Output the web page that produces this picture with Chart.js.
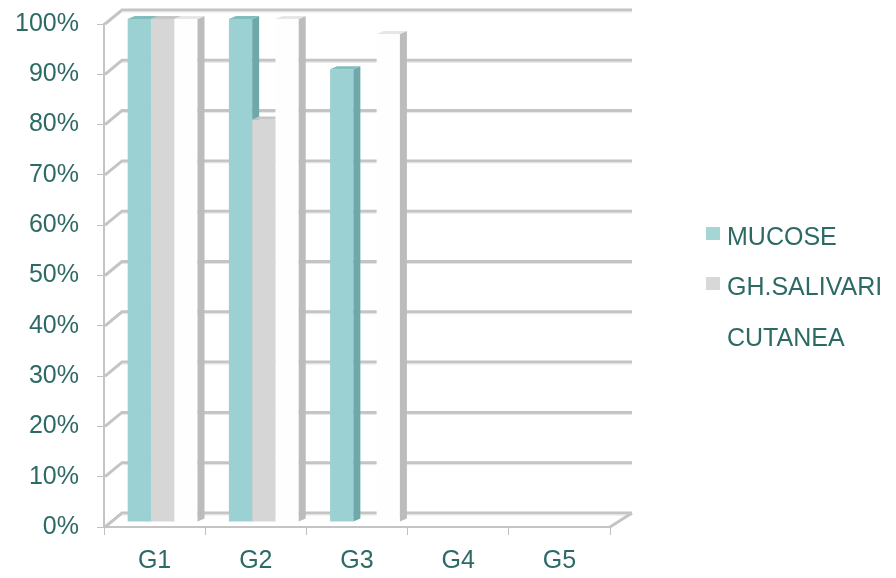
<!DOCTYPE html>
<html>
<head>
<meta charset="utf-8">
<script src="https://cdn.jsdelivr.net/npm/chart.js@4/dist/chart.umd.min.js"></script>
<style>
  html, body { margin: 0; padding: 0; background: #fff; }
  #wrap { position: relative; width: 896px; height: 578px; }
  #legend { position: absolute; left: 0; top: 0; font-family: "Liberation Sans", Arial, sans-serif; font-size: 25px; color: #2d6a66; }
  .item { position: absolute; left: 706px; white-space: nowrap; }
  .item .box { position: absolute; left: 0; width: 14px; height: 13px; }
  .item .txt { position: absolute; left: 21px; line-height: 30px; }
</style>
</head>
<body>
<div id="wrap">
  <canvas id="chart" width="896" height="578"></canvas>
  <div id="legend"></div>
</div>
<script>
// Chart data
const categories = ["G1", "G2", "G3", "G4", "G5"]
const seriesNames = ["MUCOSE", "GH.SALIVARI", "CUTANEA"]
const mucose = [100, 100, 90, 0, 0]
const salivari = [100, 80, 0, 0, 0]
const cutanea = [100, 100, 97, 0, 0]
const yTicks = [0, 10, 20, 30, 40, 50, 60, 70, 80, 90, 100]

const textColor = "#2d6a66"
const fronts = ["#9bd1d2", "#d6d6d6", "#fefefe"]
const sides = ["#6ea8a8", "#b9b9b9", "#bcbcbc"]
const tops = ["#82bdbd", "#c6c6c6", "#e6e6e6"]
const legendBoxes = ["#a6d5d6", "#d8d8d8", "#ffffff"]

// 3D look: bars sit a bit inside the box, back wall is offset up/right
const barShift = { x: 8, y: -5 }
const depth = { x: 7, y: -3 }
const wall = { x: 18, y: -14 }

const frame3d = {
  id: "frame3d",
  beforeDatasetsDraw(chart) {
    const { ctx, chartArea, scales } = chart
    const L = chartArea.left, R = chartArea.right, B = chartArea.bottom
    ctx.save()
    yTicks.forEach((v) => {
      const y = scales.y.getPixelForValue(v)
      ctx.beginPath()
      ctx.moveTo(L + 1, y)
      ctx.lineTo(L + wall.x, y + wall.y)
      ctx.lineTo(R + wall.x + 4, y + wall.y)
      ctx.strokeStyle = "#c4c4c4"
      ctx.lineWidth = 3
      ctx.stroke()
      ctx.beginPath()
      ctx.moveTo(L + wall.x, y + wall.y + 2)
      ctx.lineTo(R + wall.x + 4, y + wall.y + 2)
      ctx.strokeStyle = "#e6e6e6"
      ctx.lineWidth = 1
      ctx.stroke()
    })
    // floor right edge
    ctx.beginPath()
    ctx.moveTo(R, B)
    ctx.lineTo(R + wall.x + 4, B + wall.y)
    ctx.strokeStyle = "#c4c4c4"
    ctx.lineWidth = 3
    ctx.stroke()
    ctx.restore()
  },
  // skip the default drawing, bars are drawn below from left to right
  beforeDatasetDraw() {
    return false
  },
  afterDatasetsDraw(chart) {
    const { ctx } = chart
    ctx.save()
    ctx.translate(barShift.x, barShift.y)
    chart.data.datasets.forEach((ds, i) => {
      const meta = chart.getDatasetMeta(i)
      meta.data.forEach((bar) => {
        const p = bar.getProps(["x", "y", "base", "width"], true)
        if (Math.abs(p.base - p.y) < 1) return
        bar.draw(ctx)
        const l = p.x - p.width / 2, r = p.x + p.width / 2
        // side face
        ctx.beginPath()
        ctx.moveTo(r, p.y)
        ctx.lineTo(r + depth.x, p.y + depth.y)
        ctx.lineTo(r + depth.x, p.base + depth.y)
        ctx.lineTo(r, p.base)
        ctx.closePath()
        ctx.fillStyle = sides[i]
        ctx.fill()
        // top face
        ctx.beginPath()
        ctx.moveTo(l, p.y)
        ctx.lineTo(l + depth.x, p.y + depth.y)
        ctx.lineTo(r + depth.x, p.y + depth.y)
        ctx.lineTo(r, p.y)
        ctx.closePath()
        ctx.fillStyle = tops[i]
        ctx.fill()
      })
    })
    ctx.restore()
  }
}

const seriesValues = [mucose, salivari, cutanea]
const datasets = seriesNames.map((name, i) => ({
  label: name,
  data: seriesValues[i],
  backgroundColor: fronts[i],
  borderWidth: 0,
  categoryPercentage: 0.69,
  barPercentage: 1
}))

new Chart(document.getElementById("chart"), {
  type: "bar",
  data: { labels: categories, datasets: datasets },
  options: {
    responsive: false,
    animation: false,
    layout: { padding: { left: 0, right: 286, top: 24, bottom: 0 } },
    plugins: { legend: { display: false }, tooltip: { enabled: false } },
    scales: {
      x: {
        afterFit: (scale) => {
          scale.height = 51
          scale.paddingLeft = 0
          scale.paddingRight = 0
        },
        grid: { drawOnChartArea: false, drawTicks: true, tickLength: 8, color: "#c0c0c0", offset: true },
        border: { color: "#c4c4c4", width: 2 },
        ticks: { color: textColor, font: { family: "Liberation Sans", size: 25 }, padding: 11 }
      },
      y: {
        min: 0,
        max: 100,
        afterFit: (scale) => {
          scale.width = 104
          scale.paddingTop = 0
          scale.paddingBottom = 0
        },
        afterBuildTicks: (scale) => { scale.ticks = yTicks.map((v) => ({ value: v })) },
        grid: { drawOnChartArea: false, drawTicks: true, tickLength: 7, color: "#c0c0c0" },
        border: { color: "#c4c4c4", width: 2 },
        ticks: {
          color: textColor,
          font: { family: "Liberation Sans", size: 25 },
          padding: 18,
          callback: (v) => v + "%"
        }
      }
    }
  },
  plugins: [frame3d]
})

// Legend
const legendTops = [221, 271, 322]
const legend = document.getElementById("legend")
seriesNames.forEach((name, i) => {
  const item = document.createElement("div")
  item.className = "item"
  item.style.top = legendTops[i] + "px"
  item.innerHTML = '<span class="box" style="top:6px;background:' + legendBoxes[i] + '"></span><span class="txt">' + name + "</span>"
  legend.appendChild(item)
})
</script>
</body>
</html>
